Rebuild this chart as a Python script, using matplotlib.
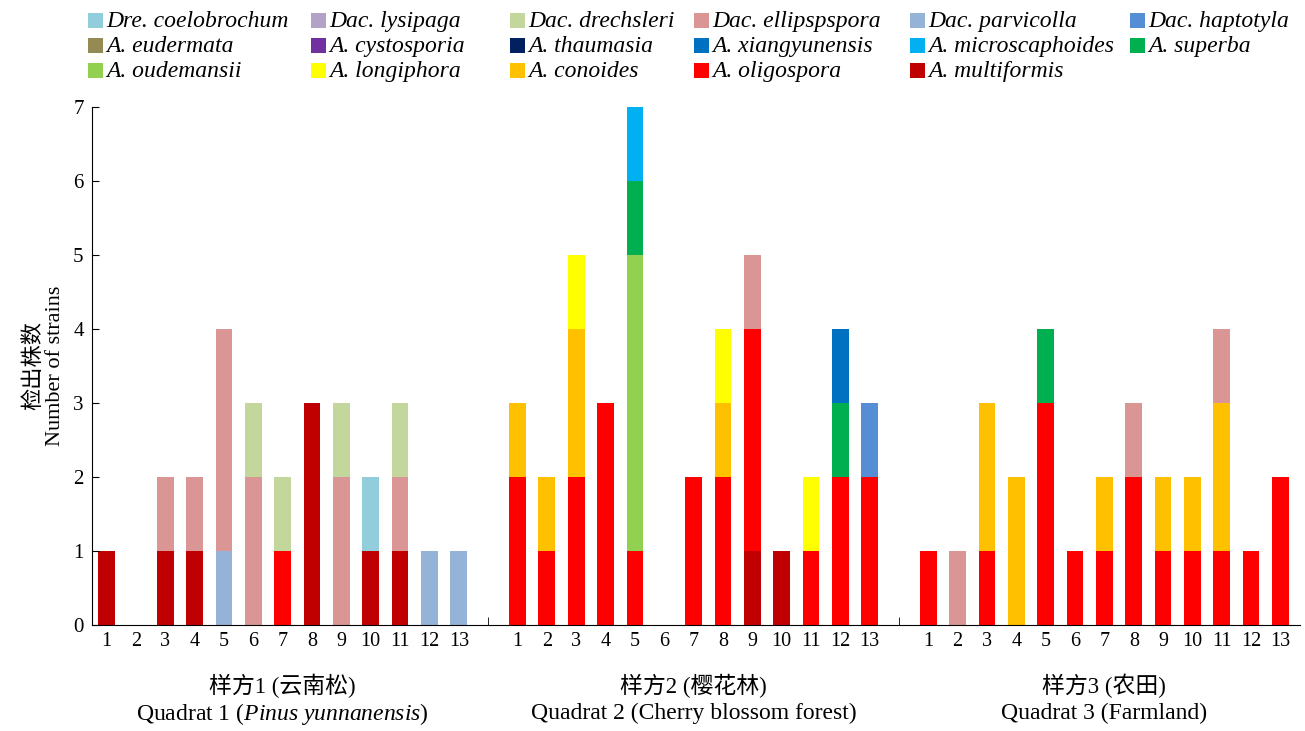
import matplotlib.pyplot as plt
from matplotlib.patches import Rectangle
import numpy as np

plt.rcParams['font.family'] = ['Liberation Serif', 'Noto Sans CJK SC']
plt.rcParams['mathtext.fontset'] = 'custom'
plt.rcParams['mathtext.rm'] = 'Liberation Serif'
plt.rcParams['mathtext.it'] = 'Liberation Serif:italic'

# legend order (top-left to bottom-right), stacking goes in reverse
names = ['Dre. coelobrochum', 'Dac. lysipaga', 'Dac. drechsleri', 'Dac. ellipspspora',
         'Dac. parvicolla', 'Dac. haptotyla', 'A. eudermata', 'A. cystosporia',
         'A. thaumasia', 'A. xiangyunensis', 'A. microscaphoides', 'A. superba',
         'A. oudemansii', 'A. longiphora', 'A. conoides', 'A. oligospora', 'A. multiformis']
colors = ['#92CDDC', '#B3A2C7', '#C3D69B', '#D99694', '#95B3D7', '#558ED5', '#948A54',
          '#7030A0', '#002060', '#0070C0', '#00B0F0', '#00B050', '#92D050', '#FFFF00',
          '#FFC000', '#FF0000', '#C00000']

z = [0] * 13
# counts per sampling point: quadrat 1 + quadrat 2 + quadrat 3
coelobrochum = [0, 0, 0, 0, 0, 0, 0, 0, 0, 1, 0, 0, 0] + z + z
lysipaga = z + z + z
drechsleri = [0, 0, 0, 0, 0, 1, 1, 0, 1, 0, 1, 0, 0] + z + z
ellipsospora = ([0, 0, 1, 1, 3, 2, 0, 0, 2, 0, 1, 0, 0]
                + [0, 0, 0, 0, 0, 0, 0, 0, 1, 0, 0, 0, 0]
                + [0, 1, 0, 0, 0, 0, 0, 1, 0, 0, 1, 0, 0])
parvicolla = [0, 0, 0, 0, 1, 0, 0, 0, 0, 0, 0, 1, 1] + z + z
haptotyla = z + [0, 0, 0, 0, 0, 0, 0, 0, 0, 0, 0, 0, 1] + z
eudermata = z + z + z
cystosporia = z + z + z
thaumasia = z + z + z
xiangyunensis = z + [0, 0, 0, 0, 0, 0, 0, 0, 0, 0, 0, 1, 0] + z
microscaphoides = z + [0, 0, 0, 0, 1, 0, 0, 0, 0, 0, 0, 0, 0] + z
superba = (z + [0, 0, 0, 0, 1, 0, 0, 0, 0, 0, 0, 1, 0]
           + [0, 0, 0, 0, 1, 0, 0, 0, 0, 0, 0, 0, 0])
oudemansii = z + [0, 0, 0, 0, 4, 0, 0, 0, 0, 0, 0, 0, 0] + z
longiphora = z + [0, 0, 1, 0, 0, 0, 0, 1, 0, 0, 1, 0, 0] + z
conoides = (z + [1, 1, 2, 0, 0, 0, 0, 1, 0, 0, 0, 0, 0]
            + [0, 0, 2, 2, 0, 0, 1, 0, 1, 1, 2, 0, 0])
oligospora = ([0, 0, 0, 0, 0, 0, 1, 0, 0, 0, 0, 0, 0]
              + [2, 1, 2, 3, 1, 0, 2, 2, 3, 0, 1, 2, 2]
              + [1, 0, 1, 0, 3, 1, 1, 2, 1, 1, 1, 1, 2])
multiformis = ([1, 0, 1, 1, 0, 0, 0, 3, 0, 1, 1, 0, 0]
               + [0, 0, 0, 0, 0, 0, 0, 0, 1, 1, 0, 0, 0] + z)

series = [coelobrochum, lysipaga, drechsleri, ellipsospora, parvicolla, haptotyla,
          eudermata, cystosporia, thaumasia, xiangyunensis, microscaphoides, superba,
          oudemansii, longiphora, conoides, oligospora, multiformis]

groups_cn = ['样方1 (云南松)', '样方2 (樱花林)', '样方3 (农田)']
groups_en = ['Quadrat 1 ($Pinus\\ yunnanensis$)', 'Quadrat 2 (Cherry blossom forest)',
             'Quadrat 3 (Farmland)']
points = list(range(1, 14))

x = np.array([g * 14 + p for g in range(3) for p in points])

W, H = 1305, 731
fig = plt.figure(figsize=(W / 100, H / 100), dpi=100)
ax = fig.add_axes([0.0705, 0.145, 0.926, 0.709])

bottom = np.zeros(len(x))
for i in range(len(names) - 1, -1, -1):
    vals = np.array(series[i], dtype=float)
    ax.bar(x, vals, 0.57, bottom=bottom, color=colors[i], label=names[i])
    bottom += vals

ax.set_xlim(0.5, 41.68)
ax.set_ylim(0, 7)
ax.set_yticks(range(8))
ax.set_xticks(x)
ax.set_xticklabels([str(p) for p in points] * 3)
ax.tick_params(axis='x', length=0, labelsize=14.5, pad=5)
ax.tick_params(axis='y', direction='in', length=5, labelsize=15, pad=6)
# small upward ticks at group borders and at empty sampling points
minor = [14, 28] + list(x[bottom == 0])
ax.set_xticks(minor, minor=True)
ax.tick_params(axis='x', which='minor', direction='in', length=6)
for s in ['top', 'right']:
    ax.spines[s].set_visible(False)
ax.set_ylabel('检出株数\nNumber of strains', fontsize=16, labelpad=6, linespacing=1.1)

for g in range(3):
    ax.text(g * 14 + 7, -0.82, groups_cn[g], ha='center', va='center', fontsize=16.5)
    ax.text(g * 14 + 7, -1.2, groups_en[g], ha='center', va='center', fontsize=17)

# legend laid out row by row like the original (pixel positions of each column)
col_x = [88, 311, 510, 694, 910, 1130]
row_y = [20, 45, 70]
for k, (nm, c) in enumerate(zip(names, colors)):
    r, cc = divmod(k, 6)
    px, py = col_x[cc], row_y[r]
    fig.add_artist(Rectangle((px / W, 1 - (py + 7.5) / H), 15 / W, 15 / H,
                             transform=fig.transFigure, color=c, lw=0))
    fig.text((px + 18) / W, 1 - (py + 7) / H, nm, ha='left', va='baseline',
             fontsize=17, style='italic', family='Liberation Serif')

fig.savefig('out.png', dpi=100)
